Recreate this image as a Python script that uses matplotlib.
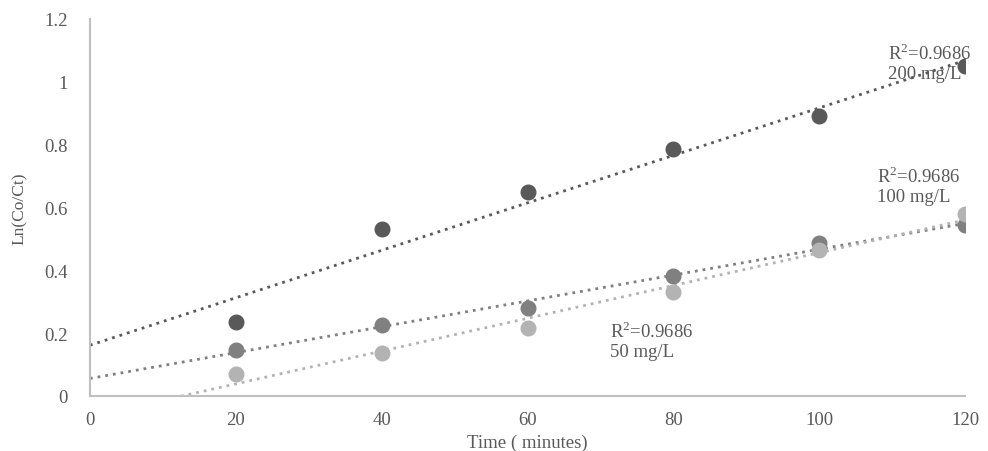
import numpy as np
import matplotlib.pyplot as plt

time = [20, 40, 60, 80, 100, 120]
c200 = [0.235, 0.53, 0.65, 0.785, 0.89, 1.05]
c100 = [0.145, 0.225, 0.28, 0.38, 0.485, 0.545]
c50 = [0.07, 0.135, 0.215, 0.33, 0.465, 0.58]
series_labels = ['R$^2$=0.9686\n200 mg/L', 'R$^2$=0.9686\n100 mg/L', 'R$^2$=0.9686\n50 mg/L']
yticks = [0, 0.2, 0.4, 0.6, 0.8, 1, 1.2]
ytick_labels = ['0', '0.2', '0.4', '0.6', '0.8', '1', '1.2']
xticks = [0, 20, 40, 60, 80, 100, 120]

plt.rcParams['font.family'] = ['Liberation Serif', 'DejaVu Serif']
plt.rcParams['mathtext.fontset'] = 'custom'
plt.rcParams['mathtext.rm'] = 'Liberation Serif'

fig = plt.figure(figsize=(9.88, 4.52), dpi=100)
ax = fig.add_axes([0.091, 0.122, 0.886, 0.834])

colors = ['#595959', '#808080', '#b3b3b3']
label_pos = [(109.4, 1.062), (107.9, 0.67), (71.3, 0.178)]
xfit = np.array([0, 120])

for ys, col, lab, pos in zip([c200, c100, c50], colors, series_labels, label_pos):
    ax.plot(time, ys, 'o', color=col, markersize=10.5, zorder=3)
    k, b = np.polyfit(time, ys, 1)
    ax.plot(xfit, k * xfit + b, color=col, lw=2, dashes=(1, 1.8), zorder=2)
    ax.text(pos[0], pos[1], lab, color='#595959', fontsize=13.5,
            va='center', ha='left', linespacing=1.15)

ax.set_xlim(0, 120)
ax.set_ylim(0, 1.2)
ax.set_xticks(xticks)
ax.set_yticks(yticks)
ax.set_yticklabels(ytick_labels)
ax.tick_params(length=0, labelsize=13.5, labelcolor='#595959')
ax.tick_params(axis='y', pad=16)
ax.tick_params(axis='x', pad=11)
for s in ['top', 'right']:
    ax.spines[s].set_visible(False)
for s in ['left', 'bottom']:
    ax.spines[s].set_color('#bfbfbf')
    ax.spines[s].set_linewidth(1.5)

ax.set_xlabel('Time ( minutes)', fontsize=13.5, color='#595959', labelpad=4)
ax.set_ylabel('Ln(Co/Ct)', fontsize=12.5, color='#595959', labelpad=12)

fig.savefig('out.png', dpi=100)
